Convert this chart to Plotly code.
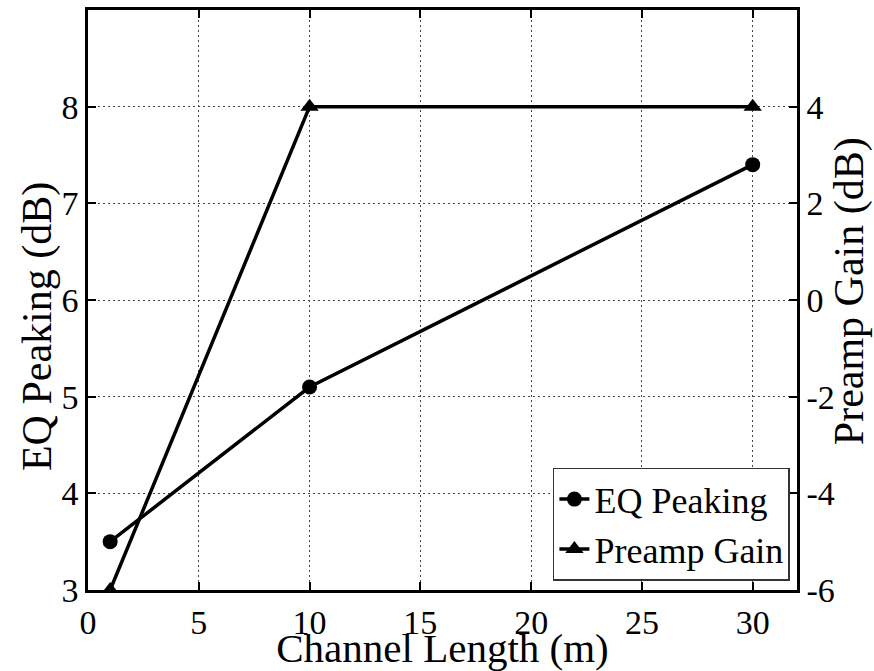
import plotly.graph_objects as go

# Channel length sweep and measured settings
channel_length_m = [1, 10, 30]
eq_peaking_db = [3.5, 5.1, 7.4]
preamp_gain_db = [-6, 4, 4]

x_ticks = [0, 5, 10, 15, 20, 25, 30]
eq_ticks = [3, 4, 5, 6, 7, 8]
gain_ticks = [-6, -4, -2, 0, 2, 4]
gain_tick_text = [str(v) for v in gain_ticks]  # plain hyphen minus

SERIF = "Liberation Serif, Times New Roman, serif"
TICK_FONT = dict(family=SERIF, size=34, color="black")
TITLE_FONT = dict(family=SERIF, size=42, color="black")

fig = go.Figure()

fig.add_trace(go.Scatter(
    x=channel_length_m, y=eq_peaking_db, name="EQ Peaking",
    mode="lines+markers",
    line=dict(color="black", width=3.5),
    marker=dict(symbol="circle", size=15, color="black"),
    yaxis="y",
))
fig.add_trace(go.Scatter(
    x=channel_length_m, y=preamp_gain_db, name="Preamp Gain",
    mode="lines+markers",
    line=dict(color="black", width=3.5),
    marker=dict(symbol="triangle-up", size=16, color="black"),
    yaxis="y2",
))

grid = dict(showgrid=True, gridcolor="#444444", gridwidth=1, griddash="1.5px,3.5px")
axis_common = dict(
    ticks="inside", ticklen=8, tickwidth=1.5, tickcolor="black",
    showline=True, linecolor="black", linewidth=2.5,
    tickfont=TICK_FONT, zeroline=False, automargin=False,
)

fig.update_layout(
    width=874, height=671,
    margin=dict(l=88, r=77, t=10, b=81, autoexpand=False),
    paper_bgcolor="white", plot_bgcolor="white",
    showlegend=True,
    legend=dict(
        x=0.99, y=0.016, xanchor="right", yanchor="bottom",
        bgcolor="white", bordercolor="#333333", borderwidth=1.5,
        font=dict(family=SERIF, size=36, color="black"),
        tracegroupgap=0, itemsizing="trace",
    ),
    xaxis=dict(
        range=[0, 32], tickvals=x_ticks, mirror="ticks",
        ticklabelstandoff=0,
        title=dict(text="Channel Length (m)", font=dict(TITLE_FONT, size=41), standoff=0),
        **axis_common, **grid,
    ),
    yaxis=dict(
        range=[3, 9], tickvals=eq_ticks, ticklabelstandoff=0,
        **axis_common, **grid,
    ),
    yaxis2=dict(
        range=[-6, 6], tickvals=gain_ticks, ticktext=gain_tick_text,
        overlaying="y", side="right", showgrid=False, ticklabelstandoff=0,
        **axis_common,
    ),
    annotations=[
        dict(text="EQ Peaking (dB)", textangle=-90, font=TITLE_FONT,
             xref="paper", yref="paper", x=-0.072, y=0.455,
             xanchor="center", yanchor="middle", showarrow=False),
        dict(text="Preamp Gain (dB)", textangle=-90, font=TITLE_FONT,
             xref="paper", yref="paper", x=1.074, y=0.516,
             xanchor="center", yanchor="middle", showarrow=False),
    ],
)

fig.write_html("out.html")
